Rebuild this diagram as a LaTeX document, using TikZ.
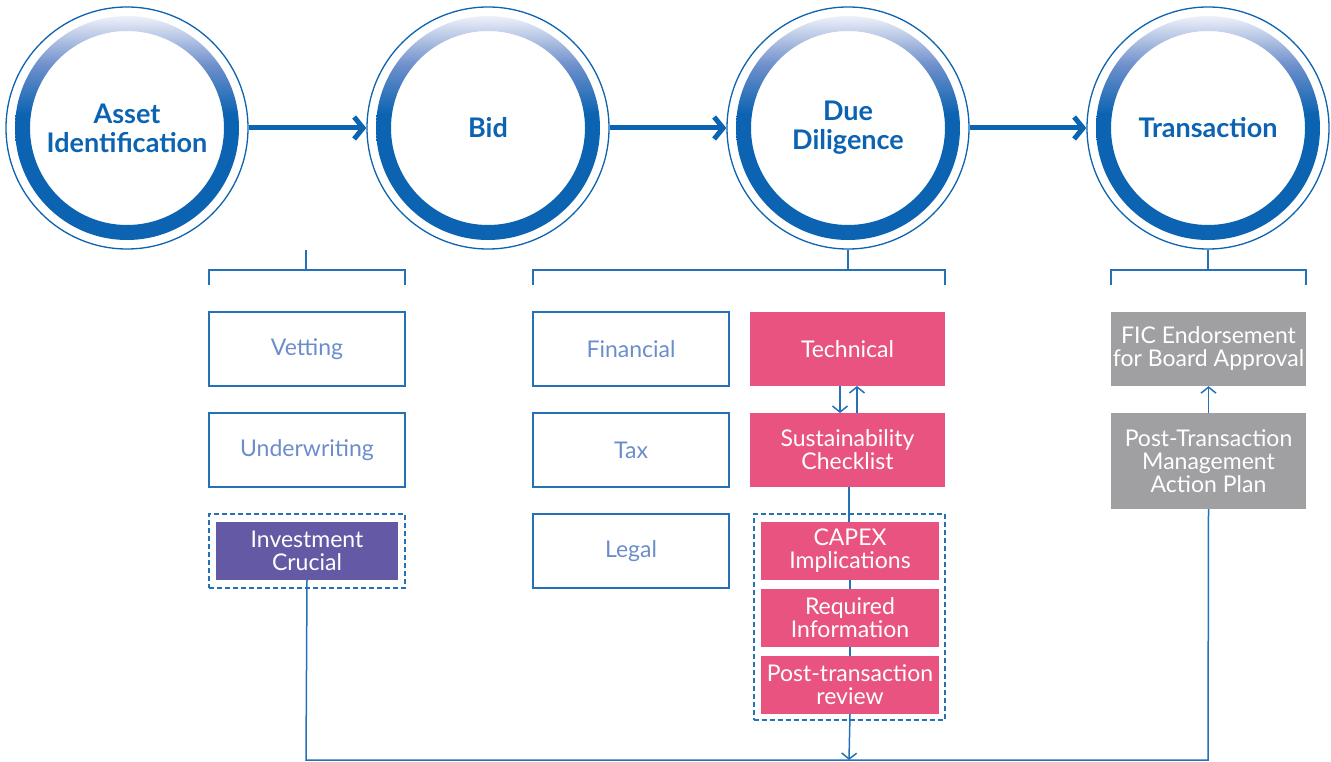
\documentclass[tikz,border=0pt]{standalone}
\usepackage{fontspec}
\setmainfont{Lato}
\usetikzlibrary{arrows.meta}
\definecolor{ringblue}{HTML}{0B63B1}
\definecolor{ringmid}{HTML}{6E8FCB}
\definecolor{ringtop}{HTML}{EEF1F9}
\definecolor{lineblue}{HTML}{2471B8}
\definecolor{boxtext}{HTML}{6B8DCB}
\definecolor{pinkbox}{HTML}{E8547F}
\definecolor{purplebox}{HTML}{6459A5}
\definecolor{graybox}{HTML}{A0A0A2}
\pgfdeclareverticalshading{ringshade}{100bp}{color(0bp)=(ringblue); color(53bp)=(ringblue);
  color(64bp)=(ringmid); color(75bp)=(ringtop); color(100bp)=(ringtop)}
\tikzset{
  stage/.style={circle, minimum size=242pt, inner sep=0pt, draw=ringblue, line width=1.3pt,
    align=center, text=ringblue, font=\fontsize{27}{29}\selectfont\bfseries},
  outlinebox/.style={rectangle, draw=lineblue, line width=1.5pt, minimum width=196pt, minimum height=74pt,
    align=center, text=boxtext, font=\fontsize{23}{23}\selectfont},
  fillbox/.style={rectangle, minimum width=195pt, minimum height=74pt, inner sep=0pt,
    align=center, text=white, font=\fontsize{23}{23}\selectfont},
  smallbox/.style={fillbox, fill=pinkbox, minimum width=178pt, minimum height=58pt},
  dashframe/.style={rectangle, draw=lineblue, line width=1.5pt, dash pattern=on 5pt off 3pt, inner sep=0pt},
  link/.style={draw=lineblue, line width=1.5pt},
  bigarrow/.style={draw=ringblue, line width=5pt, -{Straight Barb[length=9pt, width=22pt]}},
  smallarrow/.style={link, -{Straight Barb[length=6pt, width=15pt]}}
}
\begin{document}
\begin{tikzpicture}[x=1pt, y=-1pt]
			%%%%% START %%%%%
			\useasboundingbox (0,0) rectangle (1331,762);
			
			% stages
			\foreach \cx/\name/\label in {127/asset/{Asset\\Identification}, 488/bid/Bid,
			    848/diligence/{Due\\Diligence}, 1208/transaction/Transaction}{
			  \shade[shading=ringshade, even odd rule]
			    (\cx,128) circle (112pt) (\cx,128) circle (97pt);
			  \node[stage] (\name) at (\cx,128) {\label};
			}
			
			\draw[bigarrow] (asset.east) -- (bid.west);
			\draw[bigarrow] (bid.east) -- (diligence.west);
			\draw[bigarrow] (diligence.east) -- (transaction.west);
			
			% brackets
			\draw[link] (306,250) -- (306,270);
			\draw[link] (209,285) -- (209,270) -- (405,270) -- (405,285);
			\draw[link] (diligence.south) -- (848,270);
			\draw[link] (533,285) -- (533,270) -- (945,270) -- (945,285);
			\draw[link] (transaction.south) -- (1208,270);
			\draw[link] (1111,285) -- (1111,270) -- (1306,270) -- (1306,285);
			
			% asset column
			\node[outlinebox] (vetting) at (307,349) {Vetting};
			\node[outlinebox] (underwriting) at (307,450) {Underwriting};
			\node[dashframe, minimum width=196pt, minimum height=74pt] (investframe) at (307,551) {};
			\node[fillbox, fill=purplebox, minimum width=182pt, minimum height=58pt] (invest) at (307,551) {Investment\\Crucial};
			
			% due diligence columns
			\node[outlinebox] (financial) at (631,349) {Financial};
			\node[outlinebox] (tax) at (631,450) {Tax};
			\node[outlinebox] (legal) at (631,551) {Legal};
			
			\node[fillbox, fill=pinkbox] (technical) at (847.5,349) {Technical};
			\node[fillbox, fill=pinkbox] (sustain) at (847.5,450) {Sustainability\\Checklist};
			\node[dashframe, minimum width=191pt, minimum height=206pt] (techframe) at (849.5,617) {};
			\coordinate (merge) at (849,760);
			\draw[link] (849,487) -- (849,522);
			\node[smallbox] (capex) at (850,551) {CAPEX\\Implications};
			\node[smallbox] (reqinfo) at (850,618) {Required\\Information};
			\node[smallbox] (postrev) at (850,685) {Post-transaction\\review};
			\draw[link] (capex) -- (reqinfo);
			\draw[link] (reqinfo) -- (postrev);
			\draw[smallarrow] (postrev.south) -- (merge);
			
			\draw[smallarrow] (840,386) -- (840,413);
			\draw[smallarrow] (857,413) -- (857,386);
			
			% transaction column
			\node[fillbox, fill=graybox] (fic) at (1208.5,349) {FIC Endorsement\\for Board Approval};
			\node[fillbox, fill=graybox, minimum height=96pt] (postplan) at (1208.5,461) {Post-Transaction\\Management\\Action Plan};
			\draw[smallarrow] (postplan.north) -- (fic.south);
			
			% return line
			\draw[link] (invest.south) -- (306,760) -- (1208,760) -- (postplan.south);
			
			%%%%% END %%%%%
		\end{tikzpicture}
\end{document}
